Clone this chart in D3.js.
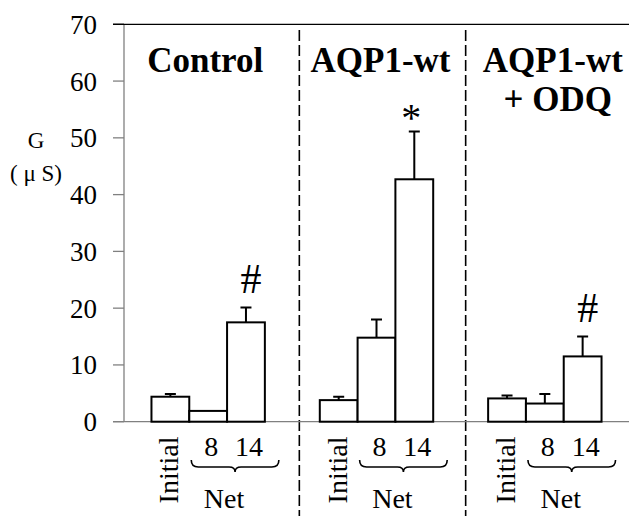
<!DOCTYPE html>
<html>
<head>
<meta charset="utf-8">
<script src="https://cdn.jsdelivr.net/npm/d3@7"></script>
</head>
<body style="margin:0; font-family: 'Liberation Serif', 'Times New Roman', serif">
<script>
// values (G in microsiemens, mean + upward error)
const groups = ['Control', 'AQP1-wt', 'AQP1-wt + ODQ'];
const groupTitles = [['Control'], ['AQP1-wt'], ['AQP1-wt', '+ ODQ']];
const conditions = ['Initial', '8', '14'];
const controlMeans = [4.4, 1.9, 17.5];
const controlErr = [0.5, 0, 2.6];
const aqpMeans = [3.8, 14.8, 42.7];
const aqpErr = [0.6, 3.2, 8.4];
const odqMeans = [4.1, 3.2, 11.5];
const odqErr = [0.5, 1.7, 3.5];
const marks = ['#', '*', '#'];
const yTicks = [0, 10, 20, 30, 40, 50, 60, 70];

const means = [controlMeans, aqpMeans, odqMeans];
const errs = [controlErr, aqpErr, odqErr];

const SERIF = "'Liberation Serif', 'Times New Roman', serif";
const width = 629, height = 516;
const margin = { top: 24.3, right: 0, bottom: 94.3, left: 124 };

const svg = d3.select('body')
  .append('svg')
  .attr('width', width)
  .attr('height', height)
  .attr('font-family', SERIF);

// every text goes through this so the serif face is set on the element itself
function label(parent, txt, size, weight) {
  return parent.append('text')
    .attr('font-family', SERIF)
    .style('font-family', SERIF)
    .style('font-size', size + 'px')
    .style('font-weight', weight || 'normal')
    .attr('text-anchor', 'middle')
    .text(txt);
}

const y = d3.scaleLinear()
  .domain([0, 70])
  .range([height - margin.bottom, margin.top]);

const x0 = d3.scaleBand()
  .domain(groups)
  .range([margin.left, width - margin.right]);

const barW = 37.8;
const x1 = d3.scaleBand()
  .domain(conditions)
  .range([-barW * 1.5, barW * 1.5]);

// dashed separators
svg.selectAll('.sep')
  .data(groups.slice(1))
  .enter()
  .append('line')
  .attr('x1', (d, i) => x0(d) + (i === 0 ? 7 : 5))
  .attr('x2', (d, i) => x0(d) + (i === 0 ? 7 : 5))
  .attr('y1', 30)
  .attr('y2', height)
  .attr('stroke', '#000')
  .attr('stroke-width', 1.6)
  .attr('stroke-dasharray', '11,4');

// y axis
svg.append('line')
  .attr('x1', margin.left).attr('x2', margin.left)
  .attr('y1', y(70)).attr('y2', y(0))
  .attr('stroke', '#808080').attr('stroke-width', 1.3);
svg.selectAll('.ytick')
  .data(yTicks)
  .enter()
  .append('line')
  .attr('x1', margin.left - 11).attr('x2', margin.left)
  .attr('y1', d => y(d)).attr('y2', d => y(d))
  .attr('stroke', d => (d === 70 ? '#000' : '#808080'))
  .attr('stroke-width', 1.3);
yTicks.forEach(t => {
  label(svg, String(t), 27)
    .attr('text-anchor', 'end')
    .attr('x', 97)
    .attr('y', y(t) + 9.5);
});

// top frame line and baseline
svg.append('line')
  .attr('x1', margin.left - 11).attr('x2', width)
  .attr('y1', y(70)).attr('y2', y(70))
  .attr('stroke', '#000').attr('stroke-width', 1.3);
svg.append('line')
  .attr('x1', margin.left - 11).attr('x2', width)
  .attr('y1', y(0)).attr('y2', y(0))
  .attr('stroke', '#808080').attr('stroke-width', 1.3);

// y label
label(svg, 'G', 23).attr('x', 36).attr('y', 148);
label(svg, '( \u03bc S)', 23).attr('x', 36).attr('y', 181);

// group titles
groups.forEach((g, gi) => {
  const cx = x0(g) + x0.bandwidth() / 2;
  groupTitles[gi].forEach((line, i) => {
    label(svg, line, 35, 'bold')
      .attr('x', cx + [-3, 4, 8][gi] + (i === 1 ? 5 : 0))
      .attr('y', 72 + i * 38.5);
  });
});

// bars and error bars
groups.forEach((g, gi) => {
  const cx = x0(g) + x0.bandwidth() / 2;
  const rows = conditions.map((c, ci) => ({ c, v: means[gi][ci], e: errs[gi][ci] }));
  const gg = svg.append('g').attr('transform', `translate(${cx},0)`);

  gg.selectAll('.err')
    .data(rows.filter(d => d.e > 0))
    .enter()
    .append('path')
    .attr('d', d => {
      const bx = x1(d.c) + x1.bandwidth() / 2;
      return `M${bx},${y(d.v)}V${y(d.v + d.e)}M${bx - 5.5},${y(d.v + d.e)}H${bx + 5.5}`;
    })
    .attr('stroke', '#000')
    .attr('stroke-width', 2)
    .attr('fill', 'none');

  gg.selectAll('.bar')
    .data(rows)
    .enter()
    .append('rect')
    .attr('x', d => x1(d.c))
    .attr('y', d => y(d.v))
    .attr('width', x1.bandwidth())
    .attr('height', d => y(0) - y(d.v))
    .attr('fill', '#fff')
    .attr('stroke', '#000')
    .attr('stroke-width', 2);

  // significance mark on last bar
  const last = rows[2];
  const mx = x1(last.c) + x1.bandwidth() / 2;
  const star = marks[gi] === '*';
  label(gg, marks[gi], star ? 40 : 42)
    .attr('x', star ? mx - 3 : mx + 5)
    .attr('y', y(last.v + last.e) + (star ? -1 : -15));

  // bottom labels
  label(gg, 'Initial', 28)
    .attr('transform', `translate(${x1('Initial') + x1.bandwidth() / 2 - 2},470) rotate(-90)`)
    .attr('dy', '0.35em');
  ['8', '14'].forEach(c => {
    label(gg, c, 28)
      .attr('x', x1(c) + x1.bandwidth() / 2 + 3)
      .attr('y', 456);
  });
  const bx0 = x1('8') + 2, bx1 = x1('14') + x1.bandwidth() + 14;
  const bm = (bx0 + bx1) / 2;
  gg.append('path')
    .attr('d', `M${bx0},460 Q${bx0},467 ${bx0 + 7},467 H${bm - 6} Q${bm},467 ${bm},472 Q${bm},467 ${bm + 6},467 H${bx1 - 7} Q${bx1},467 ${bx1},460`)
    .attr('fill', 'none')
    .attr('stroke', '#000')
    .attr('stroke-width', 1.6);
  label(gg, 'Net', 28)
    .attr('x', x1('14') - 3)
    .attr('y', 508);
});
</script>
</body>
</html>
